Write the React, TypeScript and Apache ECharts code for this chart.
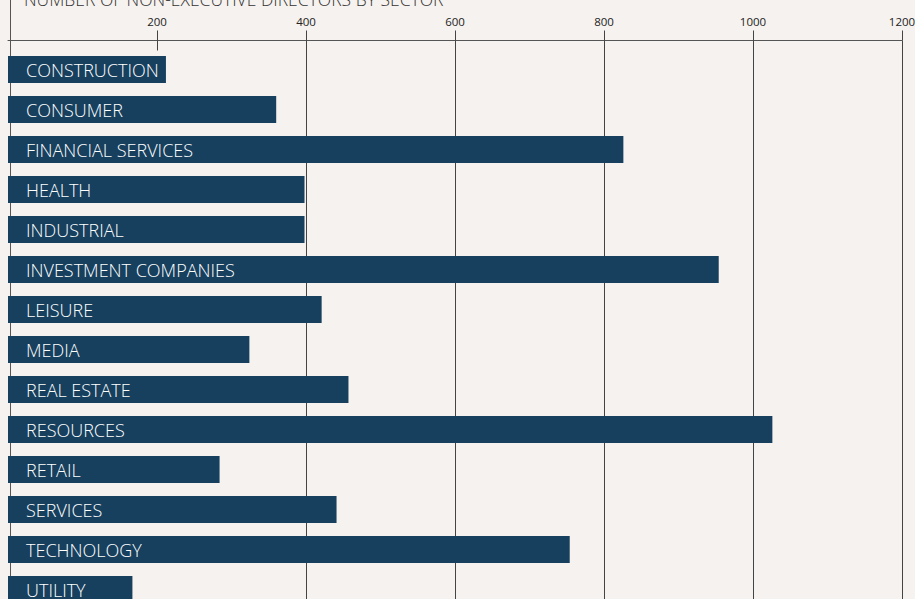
import React, { useEffect, useRef } from "react";
import * as echarts from "echarts";

const categories = [
  "CONSTRUCTION",
  "CONSUMER",
  "FINANCIAL SERVICES",
  "HEALTH",
  "INDUSTRIAL",
  "INVESTMENT COMPANIES",
  "LEISURE",
  "MEDIA",
  "REAL ESTATE",
  "RESOURCES",
  "RETAIL",
  "SERVICES",
  "TECHNOLOGY",
  "UTILITY",
];
const values = [212, 360, 826, 398, 398, 954, 421, 324, 457, 1026, 284, 441, 754, 167];
const tickValues = [200, 400, 600, 800, 1000, 1200];
const titleText = "NUMBER OF NON-EXECUTIVE DIRECTORS BY SECTOR";

export default function App() {
  const ref = useRef<HTMLDivElement>(null);
  useEffect(() => {
    if (!ref.current) return;
    const chart = echarts.init(ref.current, null, { renderer: "svg" });
    const font = "'Open Sans', sans-serif";
    chart.setOption({
      animation: false,
      backgroundColor: "#f6f2ef",
      grid: { left: 8, right: 13, top: 49.5, height: 560, outerBoundsMode: "none", containLabel: false },
      xAxis: [
        {
          type: "value",
          position: "top",
          offset: 9,
          min: 0,
          max: 1200,
          interval: 200,
          axisLine: { show: true, lineStyle: { color: "#555", width: 1 } },
          axisTick: {
            show: true,
            length: 10,
            customValues: tickValues,
            lineStyle: { color: "#444", width: 1 },
          },
          axisLabel: {
            customValues: tickValues,
            formatter: (v: number) => String(v),
            color: "#222",
            fontSize: 11.5,
            fontFamily: font,
            margin: 13,
          },
          splitLine: { show: true, showMinLine: false, lineStyle: { color: "#444", width: 1 } },
        },
        {
          type: "value",
          position: "top",
          offset: 9,
          min: 0,
          max: 1200,
          interval: 200,
          axisLine: { show: false },
          axisTick: {
            show: true,
            inside: true,
            length: 10,
            customValues: tickValues,
            lineStyle: { color: "#444", width: 1 },
          },
          axisLabel: { show: false },
          splitLine: { show: false },
        },
      ],
      yAxis: {
        type: "category",
        inverse: true,
        data: categories,
        axisLine: { show: false },
        axisTick: { show: false },
        axisLabel: { show: false },
        splitLine: { show: false },
      },
      graphic: [
        {
          type: "line",
          shape: { x1: 10.5, y1: 0, x2: 10.5, y2: 599 },
          style: { stroke: "#555", lineWidth: 1 },
          z: 1,
        },
        {
          type: "text",
          x: 24,
          y: 8,
          style: {
            text: titleText,
            fill: "#333",
            font: "300 17.5px 'Open Sans', sans-serif",
            verticalAlign: "bottom",
          },
        },
      ],
      series: [
        {
          type: "bar",
          xAxisIndex: 0,
          data: values,
          barWidth: 27,
          itemStyle: { color: "#17405e" },
          z: 3,
          label: {
            show: true,
            position: "insideLeft",
            distance: 18,
            formatter: "{b}",
            color: "#ffffff",
            fontSize: 18,
            fontWeight: 300,
            fontFamily: font,
          },
        },
      ],
    });
    return () => chart.dispose();
  }, []);
  return <div ref={ref} style={{ width: 915, height: 599, position: "absolute", left: 0, top: 0 }} />;
}
